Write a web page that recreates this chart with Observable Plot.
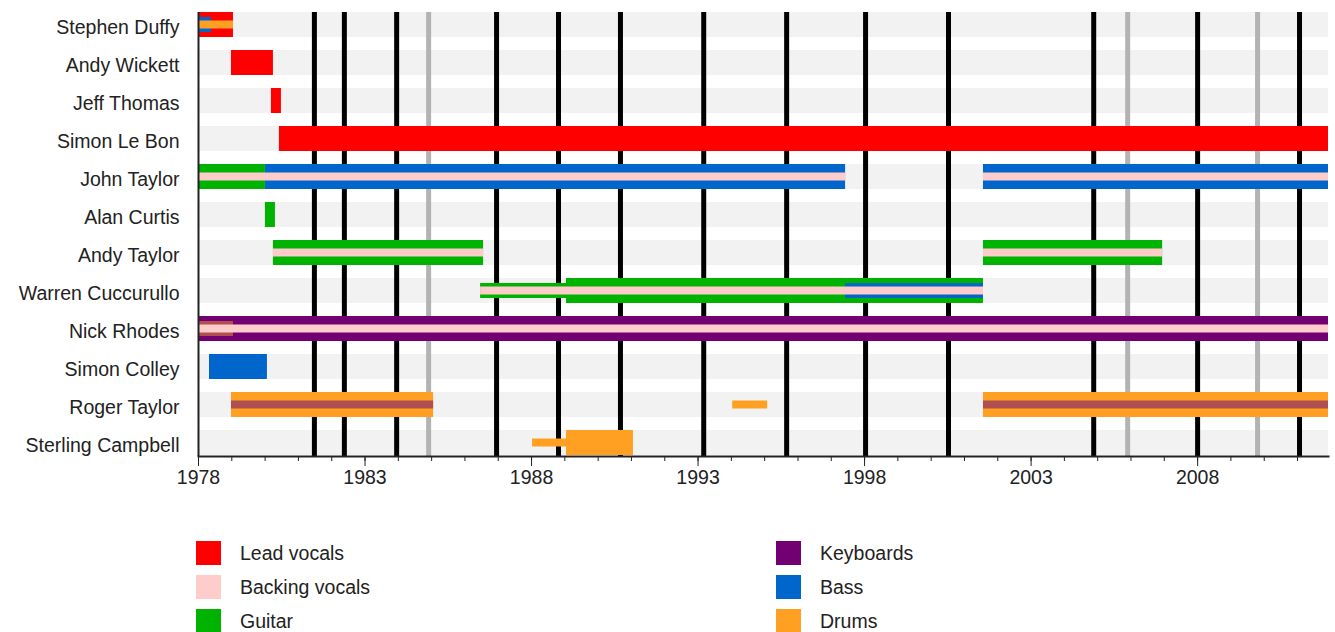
<!DOCTYPE html>
<html>
<head>
<meta charset="utf-8">
<script src="https://cdn.jsdelivr.net/npm/d3@7"></script>
<script src="https://cdn.jsdelivr.net/npm/@observablehq/plot@0.6"></script>
<style>
  body { margin: 0; background: #fff; font-family: "Liberation Sans", Arial, sans-serif; }
  #wrap { position: relative; width: 1335px; height: 632px; overflow: hidden; }
  #legend { position: absolute; left: 0; top: 536px; width: 1335px; }
  .lcol { position: absolute; top: 0; }
  .litem { display: flex; align-items: center; height: 34px; }
  .lsw { width: 25px; height: 24px; margin-right: 19px; }
  .ltxt { font-size: 19.5px; color: #222; line-height: 20px; }
</style>
</head>
<body>
<div id="wrap"><div id="chart"></div><div id="legend"></div></div>
<script>
const members = ["Stephen Duffy", "Andy Wickett", "Jeff Thomas", "Simon Le Bon", "John Taylor", "Alan Curtis",
  "Andy Taylor", "Warren Cuccurullo", "Nick Rhodes", "Simon Colley", "Roger Taylor", "Sterling Campbell"];

const roles = ["Lead vocals", "Backing vocals", "Guitar", "Keyboards", "Bass", "Drums", "Other"];
const roleColors = ["#ff0000", "#ffcccc", "#00b300", "#730073", "#0066cc", "#ffa022", "#b04f4f"];
const legendLeft = ["Lead vocals", "Backing vocals", "Guitar"];
const legendRight = ["Keyboards", "Bass", "Drums"];

const startYear = 1978;
const endYear = 2011.93;
const majorTicks = [1978, 1983, 1988, 1993, 1998, 2003, 2008];
const minorTicks = d3.range(1978, 2012);

const albumLines = [1981.48, 1982.38, 1983.95, 1986.95, 1988.81, 1990.67, 1993.17, 1995.66, 1998.03, 2000.52, 2004.88, 2008.0, 2011.06];
const otherLines = [1984.91, 2005.90, 2009.80];

// [member, role, start, end]
const mainBars = [
  ["Stephen Duffy", "Lead vocals", 1978, 1979.05],
  ["Andy Wickett", "Lead vocals", 1978.99, 1980.25],
  ["Jeff Thomas", "Lead vocals", 1980.19, 1980.49],
  ["Simon Le Bon", "Lead vocals", 1980.43, endYear],
  ["John Taylor", "Guitar", 1978, 1980.01],
  ["John Taylor", "Bass", 1980.01, 1997.43],
  ["John Taylor", "Bass", 2001.57, endYear],
  ["Alan Curtis", "Guitar", 1980.01, 1980.31],
  ["Andy Taylor", "Guitar", 1980.25, 1986.56],
  ["Andy Taylor", "Guitar", 2001.57, 2006.95],
  ["Warren Cuccurullo", "Guitar", 1989.05, 2001.57],
  ["Nick Rhodes", "Keyboards", 1978, endYear],
  ["Simon Colley", "Bass", 1978.33, 1980.07],
  ["Roger Taylor", "Drums", 1978.99, 1985.06],
  ["Roger Taylor", "Drums", 2001.57, endYear],
  ["Sterling Campbell", "Drums", 1989.05, 1991.06]
];
const midBars = [
  ["Stephen Duffy", "Bass", 1978, 1978.39],
  ["Warren Cuccurullo", "Guitar", 1986.47, 1989.05],
  ["Warren Cuccurullo", "Bass", 1997.43, 2001.57],
  ["Nick Rhodes", "Other", 1978, 1979.05]
];
const thinBars = [
  ["Stephen Duffy", "Drums", 1978, 1979.05],
  ["John Taylor", "Backing vocals", 1978, 1997.43],
  ["John Taylor", "Backing vocals", 2001.57, endYear],
  ["Andy Taylor", "Backing vocals", 1980.25, 1986.56],
  ["Andy Taylor", "Backing vocals", 2001.57, 2006.95],
  ["Warren Cuccurullo", "Backing vocals", 1986.47, 2001.57],
  ["Nick Rhodes", "Backing vocals", 1978, endYear],
  ["Roger Taylor", "Other", 1978.99, 1985.06],
  ["Roger Taylor", "Other", 2001.57, endYear],
  ["Roger Taylor", "Drums", 1994.04, 1995.09],
  ["Sterling Campbell", "Drums", 1988.03, 1989.05]
];

const toObj = ([member, role, start, end]) => ({member, role, start, end});
const main = mainBars.map(toObj), mid = midBars.map(toObj), thin = thinBars.map(toObj);

const barOpts = {x1: "start", x2: "end", y: "member", fill: "role"};

const chart = Plot.plot({
  width: 1335,
  height: 505,
  marginLeft: 198,
  marginRight: 7,
  marginTop: 12,
  marginBottom: 49,
  style: {fontFamily: "'Liberation Sans', Arial, sans-serif", fontSize: "19.5px", color: "#222", background: "#fff"},
  x: {domain: [startYear, endYear], label: null},
  y: {type: "band", domain: members, paddingInner: 0.34, paddingOuter: 0, label: null},
  color: {domain: roles, range: roleColors},
  marks: [
    Plot.barX(members, {x1: () => startYear, x2: () => endYear, y: d => d, fill: "#f2f2f2"}),
    Plot.ruleX(otherLines, {stroke: "#b3b3b3", strokeWidth: 5}),
    Plot.ruleX(albumLines, {stroke: "#000", strokeWidth: 5}),
    Plot.barX(main, barOpts),
    Plot.barX(mid, {...barOpts, insetTop: 5, insetBottom: 5}),
    Plot.barX(thin, {...barOpts, insetTop: 8.5, insetBottom: 8.5}),
    Plot.ruleX([startYear], {stroke: "#222", strokeWidth: 2}),
    Plot.frame({anchor: "bottom", stroke: "#222", strokeWidth: 2}),
    Plot.axisX({ticks: minorTicks, tickSize: 5, tickFormat: () => "", stroke: "#222"}),
    Plot.axisX({ticks: majorTicks, tickSize: 10, tickPadding: 4, tickFormat: "d", stroke: "#222", fill: "#222"}),
    Plot.axisY({tickSize: 0, tickPadding: 19, dy: 3, fill: "#222"})
  ]
});
document.getElementById("chart").appendChild(chart);

const colorOf = r => roleColors[roles.indexOf(r)];
function column(items, left) {
  const col = document.createElement("div");
  col.className = "lcol";
  col.style.left = left + "px";
  for (const r of items) {
    const it = document.createElement("div");
    it.className = "litem";
    const sw = document.createElement("div");
    sw.className = "lsw";
    sw.style.background = colorOf(r);
    const tx = document.createElement("div");
    tx.className = "ltxt";
    tx.textContent = r;
    it.appendChild(sw); it.appendChild(tx);
    col.appendChild(it);
  }
  return col;
}
const lg = document.getElementById("legend");
lg.appendChild(column(legendLeft, 196));
lg.appendChild(column(legendRight, 776));
</script>
</body>
</html>
